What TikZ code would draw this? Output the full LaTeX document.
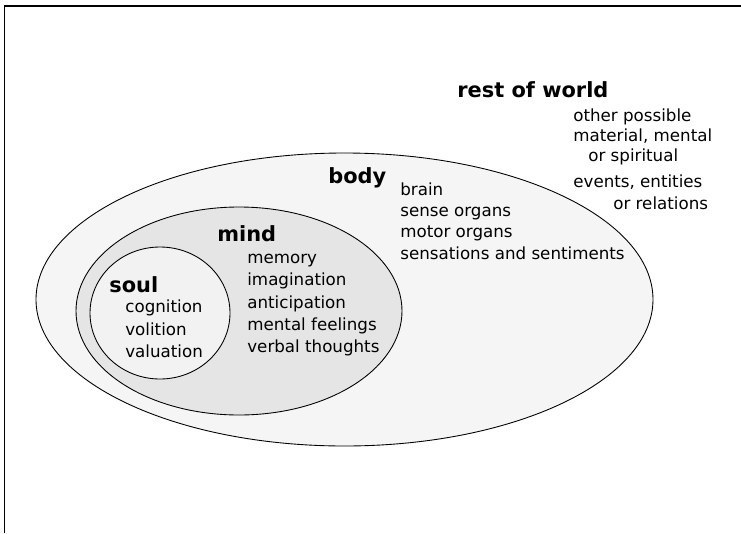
\documentclass[tikz,border=0pt]{standalone}
\usepackage{fontspec}
\setmainfont{DejaVu Sans}
\begin{document}
\begin{tikzpicture}[scale=0.2]
    \tikzstyle{every node}+=[inner sep=0pt]
    \tikzstyle{item}=[anchor=base west, font=\fontsize{9.5pt}{11pt}\selectfont]
    \tikzstyle{head}=[anchor=base west, font=\fontsize{11.9pt}{14pt}\selectfont\bfseries]
    \useasboundingbox (0,0) rectangle (74.1,-53.3);
    \draw [black, line width=1.1pt] (0.45,-53.3) -- (0.45,-0.6) -- (74.1,-0.6);
    \draw [black, fill=black!4, line width=0.5pt] (34.45,-29.95) ellipse (30.85 and 14.65);
    \draw [black, fill=black!10, line width=0.5pt] (23.9,-31.1) ellipse (16.3 and 10.4);
    \draw [black, fill=black!5, line width=0.5pt] (16.0,-31.3) ellipse (7.0 and 6.6);
    \draw (45.7,-9.7) node [head] (world) {rest of world};
    \draw (57.3,-12.17) node [item] (possible) {other possible};
    \draw (57.3,-14.17) node [item] (material) {material, mental};
    \draw (58.8,-16.17) node [item] (spiritual) {or spiritual};
    \draw (57.3,-18.77) node [item] (events) {events, entities};
    \draw (61.3,-20.9) node [item] (relations) {or relations};
    \draw (32.8,-18.3) node [head] (body) {body};
    \draw (40.0,-19.5) node [item] (brain) {brain};
    \draw (40.0,-21.6) node [item] (sense) {sense organs};
    \draw (40.0,-23.7) node [item] (motor) {motor organs};
    \draw (40.0,-25.9) node [item] (sensations) {sensations and sentiments};
    \draw (21.7,-24.1) node [head] (mind) {mind};
    \draw (24.7,-26.3) node [item] (memory) {memory};
    \draw (24.7,-28.5) node [item] (imagination) {imagination};
    \draw (24.7,-30.8) node [item] (anticipation) {anticipation};
    \draw (24.7,-33.0) node [item] (feelings) {mental feelings};
    \draw (24.7,-35.2) node [item] (thoughts) {verbal thoughts};
    \draw (10.9,-29.27) node [head] (soul) {soul};
    \draw (12.5,-31.27) node [item] (cognition) {cognition};
    \draw (12.5,-33.5) node [item] (volition) {volition};
    \draw (12.5,-35.7) node [item] (valuation) {valuation};
\end{tikzpicture}
\end{document}
